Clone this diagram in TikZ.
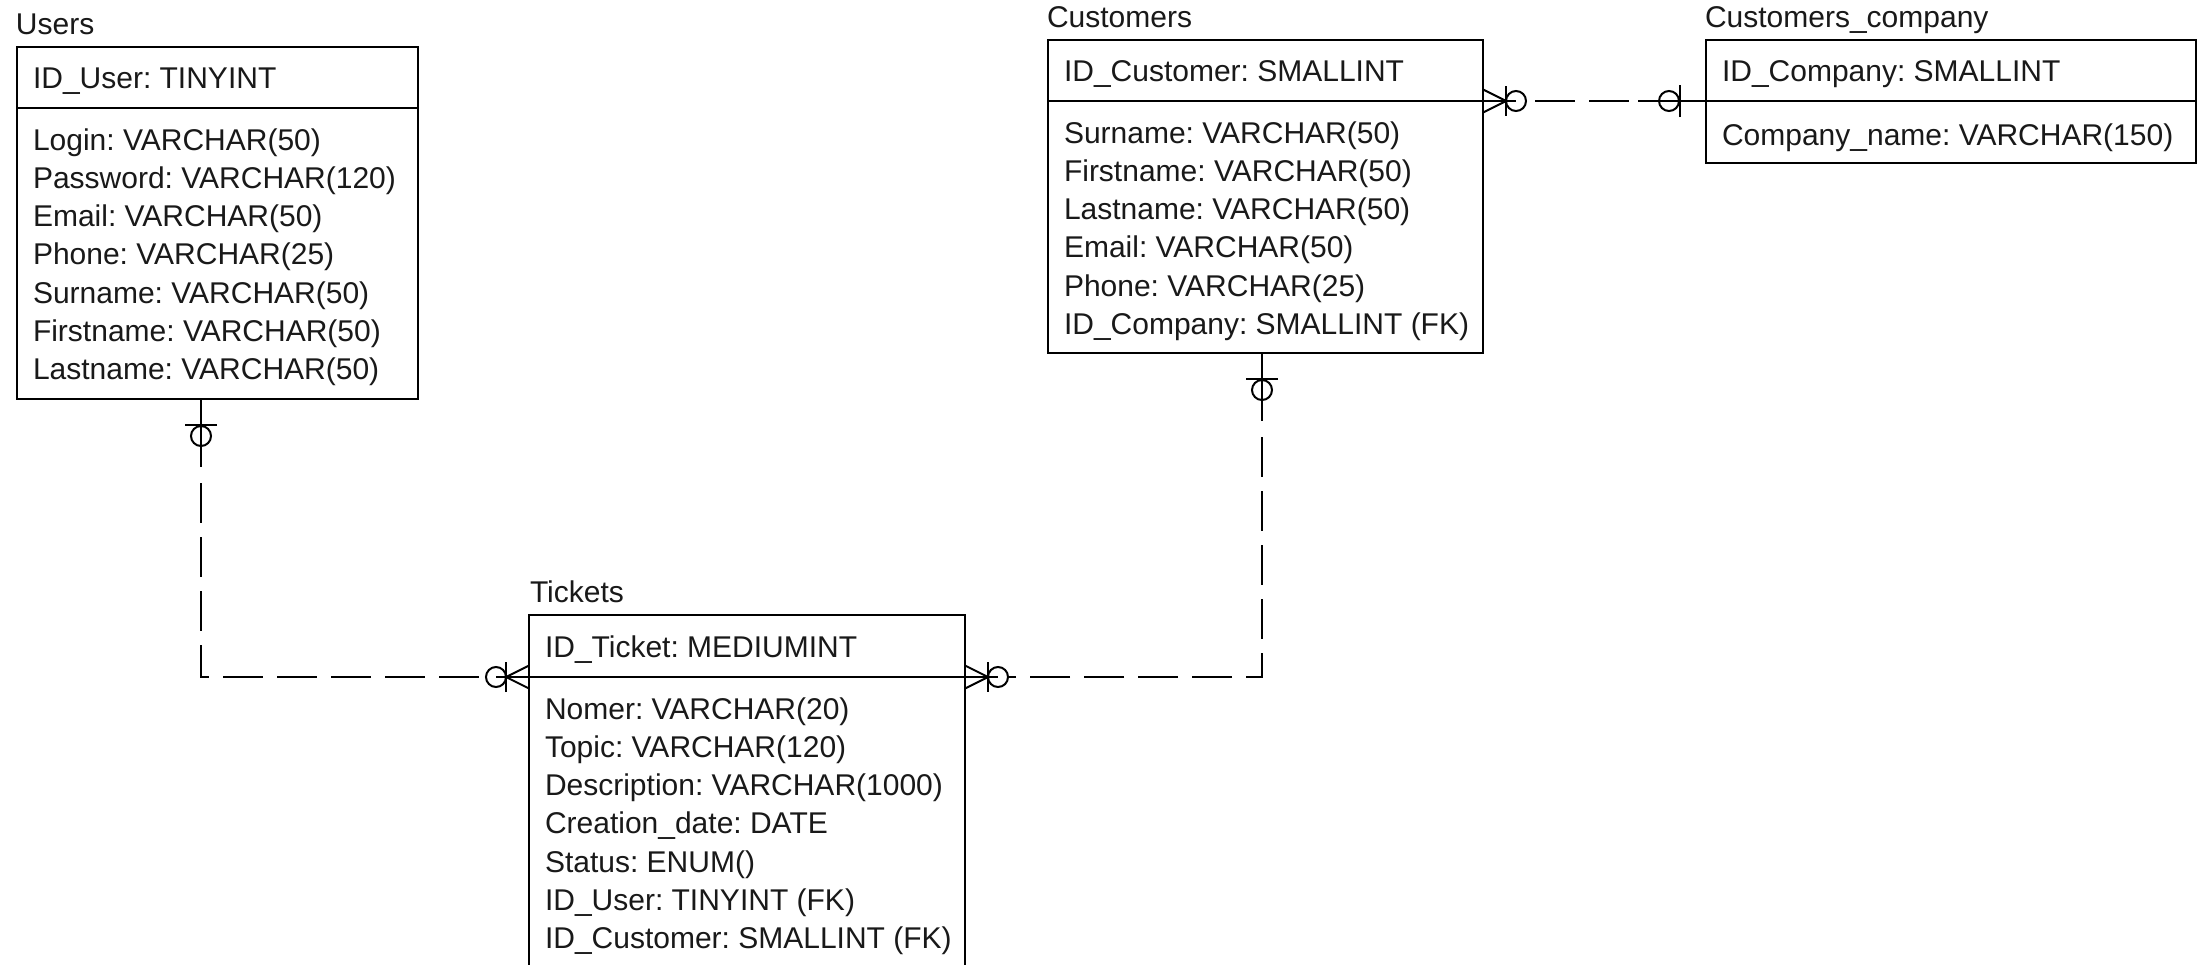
\documentclass[tikz,border=0pt]{standalone}
\usepackage{fontspec}
\setmainfont{Liberation Sans}
\frenchspacing
\usetikzlibrary{calc}
\tikzset{
  tbl/.style={draw, line width=2pt, anchor=north west, inner sep=0pt, outer sep=0pt},
  txt/.style={anchor=base west, inner sep=0pt, outer sep=0pt, text=black!90, font=\fontsize{30}{36}\selectfont},
  conn/.style={line width=2pt, dash pattern=on 40pt off 14pt},
  stub/.style={line width=2pt},
  divline/.style={line width=2pt},
  zeroone/.pic={
    \draw[stub] (0,0) -- (68,0);
    \draw[stub] (26,-16) -- (26,16);
    \draw[stub] (37,0) circle[radius=10pt];
  },
  zeromany/.pic={
    \draw[stub] (0,0) -- (33,0);
    \draw[stub] (0,-11.5) -- (23,0) -- (0,11.5);
    \draw[stub] (23,-15) -- (23,15);
    \draw[stub] (33,0) circle[radius=10pt];
  }
}
\begin{document}
\begin{tikzpicture}[x=1pt,y=-1pt]
\useasboundingbox (0,0) rectangle (2203,964);
\clip (0,0) rectangle (2203,964);
\fill[white] (0,0) rectangle (2203,964);

% ---------- Users ----------
\node[tbl, minimum width=401pt, minimum height=352pt] (users) at (17,47) {};
\draw[divline] ($(users.north west)+(0,61)$) -- ($(users.north east)+(0,61)$);
\node[txt] (usersT) at ($(users.north west)+(-1,-13)$) {Users};
\node[txt] (usersK) at ($(users.north west)+(16,41)$) {ID\_User: TINYINT};
\foreach \t [count=\i from 0] in {Login: VARCHAR(50), Password: VARCHAR(120), Email: VARCHAR(50), Phone: VARCHAR(25), Surname: VARCHAR(50), Firstname: VARCHAR(50), Lastname: VARCHAR(50)}
  \node[txt] (usersA\i) at ($(users.north west)+(16,{103+38.3*\i})$) {\t};

% ---------- Customers ----------
\node[tbl, minimum width=435pt, minimum height=313pt] (customers) at (1048,40) {};
\draw[divline] ($(customers.north west)+(0,61)$) -- ($(customers.north east)+(0,61)$);
\node[txt] (customersT) at ($(customers.north west)+(-1,-13)$) {Customers};
\node[txt] (customersK) at ($(customers.north west)+(16,41)$) {ID\_Customer: SMALLINT};
\foreach \t [count=\i from 0] in {Surname: VARCHAR(50), Firstname: VARCHAR(50), Lastname: VARCHAR(50), Email: VARCHAR(50), Phone: VARCHAR(25), ID\_Company: SMALLINT (FK)}
  \node[txt] (customersA\i) at ($(customers.north west)+(16,{103+38.3*\i})$) {\t};

% ---------- Customers_company ----------
\node[tbl, minimum width=490pt, minimum height=123pt] (company) at (1706,40) {};
\draw[divline] ($(company.north west)+(0,61)$) -- ($(company.north east)+(0,61)$);
\node[txt] (companyT) at ($(company.north west)+(-1,-13)$) {Customers\_company};
\node[txt] (companyK) at ($(company.north west)+(16,41)$) {ID\_Company: SMALLINT};
\node[txt] (companyA0) at ($(company.north west)+(16,105)$) {Company\_name: VARCHAR(150)};

% ---------- Tickets ----------
\node[tbl, minimum width=436pt, minimum height=380pt] (tickets) at (529,615) {};
\draw[divline] ($(tickets.north west)+(0,62)$) -- ($(tickets.north east)+(0,62)$);
\node[txt] (ticketsT) at ($(tickets.north west)+(1,-13)$) {Tickets};
\node[txt] (ticketsK) at ($(tickets.north west)+(16,42)$) {ID\_Ticket: MEDIUMINT};
\foreach \t [count=\i from 0] in {Nomer: VARCHAR(20), Topic: VARCHAR(120), Description: VARCHAR(1000), Creation\_date: DATE, Status: ENUM(), ID\_User: TINYINT (FK), ID\_Customer: SMALLINT (FK)}
  \node[txt] (ticketsA\i) at ($(tickets.north west)+(16,{104+38.3*\i})$) {\t};

% ---------- Users -> Tickets ----------
\coordinate (k1) at (201,677);
\coordinate (p1a) at (users.south -| k1);
\coordinate (p1b) at (k1 -| tickets.west);
\pic[rotate=-90] at (p1a) {zeroone};
\pic[rotate=180] at (p1b) {zeromany};
\draw[conn] ($(p1a)+(0,84)$) -- (k1) -- ($(p1b)+(-43,0)$);

% ---------- Tickets -> Customers ----------
\coordinate (k2) at (1262,677);
\coordinate (p2a) at (k2 -| tickets.east);
\coordinate (p2b) at (customers.south -| k2);
\pic at (p2a) {zeromany};
\pic[rotate=-90] at (p2b) {zeroone};
\draw[conn] ($(p2b)+(0,84)$) -- (k2) -- ($(p2a)+(43,0)$);

% ---------- Customers -> Customers_company ----------
\coordinate (p3a) at ($(customers.north east)+(0,61)$);
\coordinate (p3b) at (p3a -| company.west);
\pic at (p3a) {zeromany};
\pic[rotate=180] at (p3b) {zeroone};
\draw[conn] ($(p3a)+(52,0)$) -- ($(p3b)+(-68,0)$);
\end{tikzpicture}
\end{document}
